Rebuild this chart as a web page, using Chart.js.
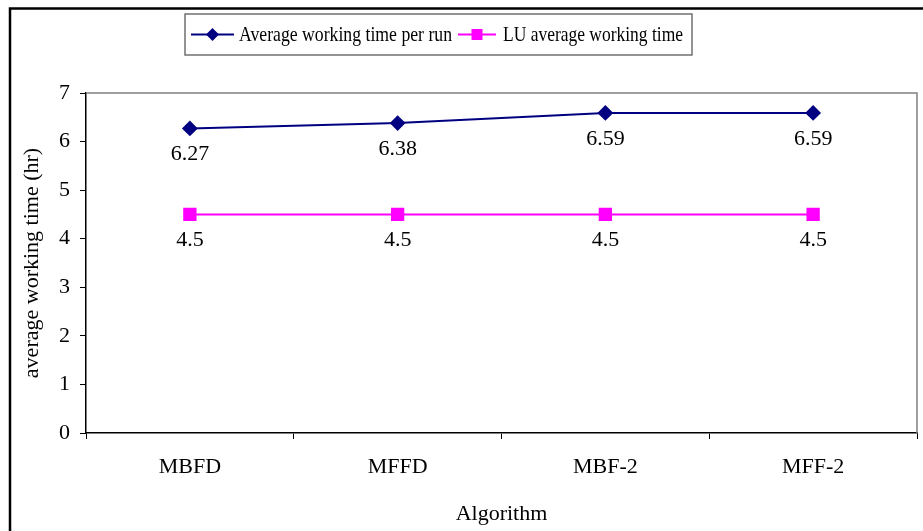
<!DOCTYPE html>
<html><head><meta charset="utf-8">
<script src="https://cdn.jsdelivr.net/npm/chart.js@4/dist/chart.umd.min.js"></script>
<style>html,body{margin:0;padding:0;background:#fff}#wrap{width:923px;height:531px}</style>
</head><body><div id="wrap"><canvas id="c" width="923" height="531"></canvas></div>
<script>
const categories = ["MBFD", "MFFD", "MBF-2", "MFF-2"];
const avgPerRun = [6.27, 6.38, 6.59, 6.59];
const luAverage = [4.5, 4.5, 4.5, 4.5];
const seriesNames = ["Average working time per run", "LU average working time"];
const yTicks = [0, 1, 2, 3, 4, 5, 6, 7];

const FONT = "'Liberation Serif', 'Times New Roman', serif";

const decor = {
  id: 'decor',
  afterDraw(chart) {
    const ctx = chart.ctx, a = chart.chartArea;
    ctx.save();
    // plot area top/right grey border
    ctx.strokeStyle = '#808080'; ctx.lineWidth = 1.5;
    ctx.beginPath();
    ctx.moveTo(a.left, a.top); ctx.lineTo(a.right, a.top); ctx.lineTo(a.right, a.bottom);
    ctx.stroke();
    // outer frame
    ctx.strokeStyle = '#000'; ctx.lineWidth = 2.5;
    ctx.beginPath();
    ctx.moveTo(10, 531); ctx.lineTo(10, 8.5); ctx.lineTo(923, 8.5);
    ctx.stroke();
    // data labels
    ctx.fillStyle = '#000'; ctx.font = '22px ' + FONT;
    ctx.textAlign = 'center'; ctx.textBaseline = 'middle';
    chart.data.datasets.forEach((ds, i) => {
      const meta = chart.getDatasetMeta(i);
      meta.data.forEach((pt, j) => {
        ctx.fillText(String(ds.data[j]), pt.x, pt.y + 26);
      });
    });
    // legend
    const lx = 185, ly = 14, lw = 507, lh = 41;
    ctx.strokeStyle = '#707070'; ctx.lineWidth = 1.5;
    ctx.strokeRect(lx, ly, lw, lh);
    const cy = ly + lh / 2;
    const items = [{x0: 191, x1: 234, tx: 239, tw: 213}, {x0: 458, x1: 496, tx: 503, tw: 180}];
    chart.data.datasets.forEach((ds, i) => {
      const it = items[i];
      ctx.strokeStyle = ds.borderColor; ctx.lineWidth = 2;
      ctx.beginPath(); ctx.moveTo(it.x0, cy); ctx.lineTo(it.x1, cy); ctx.stroke();
      ctx.fillStyle = ds.pointBackgroundColor;
      const mx = (it.x0 + it.x1) / 2;
      if (ds.pointStyle === 'rectRot') {
        ctx.beginPath(); ctx.moveTo(mx, cy - 6.5); ctx.lineTo(mx + 6.5, cy); ctx.lineTo(mx, cy + 6.5); ctx.lineTo(mx - 6.5, cy); ctx.closePath(); ctx.fill();
      } else {
        ctx.fillRect(mx - 5.5, cy - 5.5, 11, 11);
      }
      ctx.fillStyle = '#000'; ctx.textAlign = 'left'; ctx.font = '21px ' + FONT;
      const w = ctx.measureText(ds.label).width;
      ctx.save();
      ctx.translate(it.tx, cy + 1);
      ctx.scale(it.tw / w, 1);
      ctx.fillText(ds.label, 0, 0);
      ctx.restore();
    });
    ctx.restore();
  }
};

new Chart(document.getElementById('c'), {
  type: 'line',
  data: {
    labels: categories,
    datasets: [
      { label: seriesNames[0], data: avgPerRun, borderColor: '#000080', backgroundColor: '#000080',
        pointBackgroundColor: '#000080', pointBorderColor: '#000080', pointStyle: 'rectRot',
        pointRadius: 6.5, borderWidth: 2, tension: 0 },
      { label: seriesNames[1], data: luAverage, borderColor: '#FF00FF', backgroundColor: '#FF00FF',
        pointBackgroundColor: '#FF00FF', pointBorderColor: '#FF00FF', pointStyle: 'rect',
        pointRadius: 8, borderWidth: 2, tension: 0 }
    ]
  },
  options: {
    responsive: false, animation: false, devicePixelRatio: 1,
    layout: { autoPadding: false, padding: { left: 15, top: 93, right: 6, bottom: 0 } },
    plugins: { legend: { display: false }, tooltip: { enabled: false } },
    scales: {
      x: {
        offset: true,
        grid: { display: true, drawOnChartArea: false, offset: true, tickLength: 6, color: '#000', tickColor: '#000' },
        border: { color: '#000', width: 1.5 },
        ticks: { color: '#000', font: { family: FONT, size: 22 }, padding: 15, maxRotation: 0 },
        title: { display: true, text: 'Algorithm', color: '#000', font: { family: FONT, size: 22 }, padding: { top: 4, bottom: 4 } },
        afterFit(s) { s.height = 98; s.paddingLeft = 0; s.paddingRight = 0; }
      },
      y: {
        min: 0, max: 7,
        afterBuildTicks(s) { s.ticks = yTicks.map(v => ({ value: v })); },
        grid: { display: true, drawOnChartArea: false, tickLength: 6, color: '#000', tickColor: '#000' },
        border: { color: '#000', width: 1.5 },
        ticks: { color: '#000', font: { family: FONT, size: 22 }, padding: 10 },
        title: { display: true, text: 'average working time (hr)', color: '#000', font: { family: FONT, size: 22 } },
        afterFit(s) { s.width = 71; }
      }
    }
  },
  plugins: [decor]
});
</script></body></html>
